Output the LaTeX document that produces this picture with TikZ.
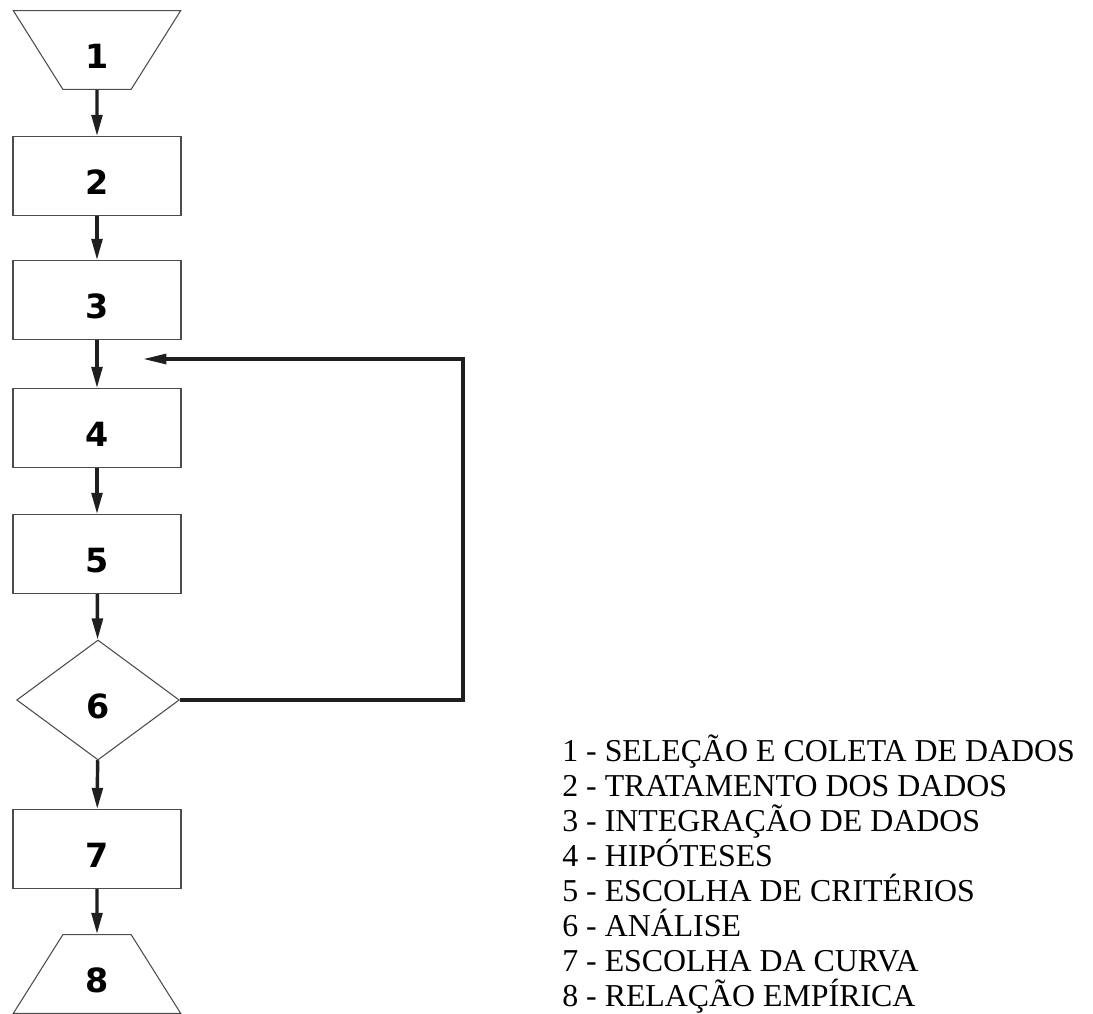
\documentclass[tikz,border=0pt]{standalone}
\usepackage{fontspec}
\setmainfont{Liberation Serif}
\newfontfamily\numfont{DejaVu Sans}
\usetikzlibrary{shapes.geometric,arrows.meta}
\begin{document}
\begin{tikzpicture}[x=0.75pt, y=-0.75pt,
    box/.style={draw=black!70, line width=0.8pt, rectangle, minimum width=126pt, minimum height=59pt, inner sep=0pt, text height=27pt, text depth=0pt, font=\numfont\bfseries\fontsize{25}{28}\selectfont},
    trap/.style={box, trapezium, trapezium angle=65, trapezium stretches=true},
    cond/.style={box, diamond, minimum width=122pt, minimum height=90pt},
    flow/.style={draw=black!88, line width=2.6pt, -{Triangle[length=16pt, width=8pt]}},
    legend/.style={font=\fontsize{23.9}{26}\selectfont, inner sep=0pt, anchor=base west}]
    \useasboundingbox (0,0) rectangle (1093,1014);

    % flow chart
    \node[trap, shape border rotate=180] (s1) at (97,50) {1};
    \node[box] (s2) at (97,176) {2};
    \node[box] (s3) at (97,300) {3};
    \node[box] (s4) at (97,428) {4};
    \node[box] (s5) at (97,554) {5};
    \node[cond] (s6) at (98,700) {6};
    \node[box] (s7) at (97,849) {7};
    \node[trap] (s8) at (97,974) {8};

    \draw[flow] (s1) -- (s2);
    \draw[flow] (s2) -- (s3);
    \draw[flow] (s3) -- (s4);
    \draw[flow] (s4) -- (s5);
    \draw[flow] (s5) -- (s6);
    \draw[flow] (s6) -- (s7);
    \draw[flow] (s7) -- (s8);

    % feedback
    \coordinate (back) at (141,359);
    \draw[flow, line width=3.5pt, -{Triangle[length=19pt, width=7pt]}] (s6.east) -| (463,359) -- (back);

    % legend
    \foreach \txt [count=\i] in {1 - SELEÇÃO E COLETA DE DADOS, 2 - TRATAMENTO DOS DADOS,
        3 - INTEGRAÇÃO DE DADOS, 4 - HIPÓTESES, 5 - ESCOLHA DE CRITÉRIOS,
        6 - ANÁLISE, 7 - ESCOLHA DA CURVA, 8 - RELAÇÃO EMPÍRICA}
        \node[legend] (leg\i) at (562,{761+35*(\i-1)}) {\txt};
\end{tikzpicture}
\end{document}
